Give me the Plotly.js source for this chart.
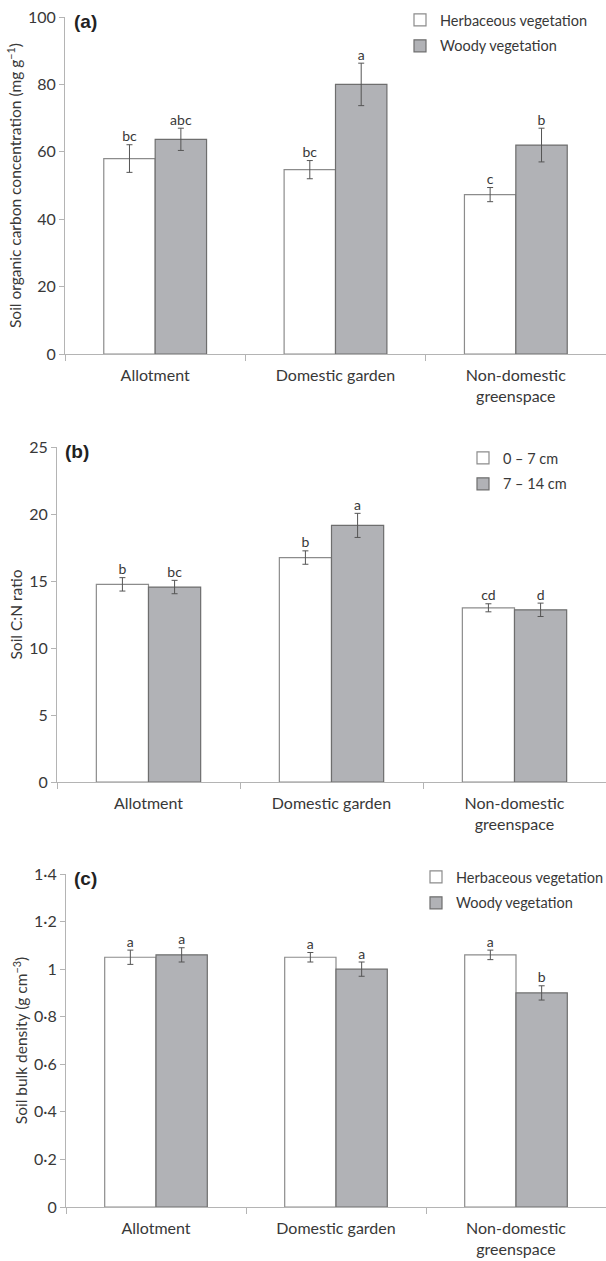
<!DOCTYPE html>
<html>
<head>
<meta charset="utf-8">
<script src="https://cdn.plot.ly/plotly-3.0.1.min.js"></script>
<style>html,body{margin:0;padding:0;background:#fff;}#chart{width:606px;height:1261px;}</style>
</head>
<body>
<div id="chart"></div>
<script>
// ---- data ----
const categories = ["Allotment", "Domestic garden", "Non-domestic<br>greenspace"];

// (a) soil organic carbon concentration (mg g-1)
const socHerb = [58.0, 54.7, 47.3];
const socHerbErr = [4.1, 2.7, 2.1];
const socWoody = [63.7, 80.0, 62.0];
const socWoodyErr = [3.3, 6.3, 5.0];
const socHerbLetters = ["bc", "bc", "c"];
const socWoodyLetters = ["abc", "a", "b"];

// (b) soil C:N ratio
const cnTop = [14.75, 16.75, 13.0];
const cnTopErr = [0.5, 0.5, 0.3];
const cnDeep = [14.55, 19.15, 12.85];
const cnDeepErr = [0.5, 0.9, 0.5];
const cnTopLetters = ["b", "b", "cd"];
const cnDeepLetters = ["bc", "a", "d"];

// (c) soil bulk density (g cm-3)
const bdHerb = [1.05, 1.05, 1.06];
const bdHerbErr = [0.03, 0.02, 0.02];
const bdWoody = [1.06, 1.00, 0.90];
const bdWoodyErr = [0.03, 0.03, 0.03];
const bdHerbLetters = ["a", "a", "a"];
const bdWoodyLetters = ["a", "a", "b"];
const bdTickVals = [0, 0.2, 0.4, 0.6, 0.8, 1, 1.2, 1.4];
const bdTickText = ["0", "0·2", "0·4", "0·6", "0·8", "1", "1·2", "1·4"];

const legendA = ["Herbaceous vegetation", "Woody vegetation"];
const legendB = ["0 – 7 cm", "7 – 14 cm"];
const legendC = ["Herbaceous vegetation", "Woody vegetation"];

// ---- styles ----
const FONT = "Lato, 'Open Sans', sans-serif";
const TXT = "#383838";
const AX = "#b4b4b4";
const whiteBar = {color: "#ffffff", line: {color: "#8c8c8c", width: 1.2}};
const greyBar = {color: "#b1b2b6", line: {color: "#6e6e6e", width: 1.2}};
const errStyle = {type: "data", visible: true, color: "#555555", thickness: 1, width: 3};

function barPair(sfx, legendId, names, v1, e1, v2, e2, l1, l2) {
  const xa = "x" + sfx, ya = "y" + sfx;
  const sum = (v, e) => v.map((d, i) => d + e[i]);
  return [
    {type: "bar", x: categories, y: v1, name: names[0], marker: whiteBar,
     error_y: Object.assign({array: e1}, errStyle), xaxis: xa, yaxis: ya,
     legend: legendId, legendgroup: legendId + "1", offsetgroup: "1", alignmentgroup: "g" + sfx, hoverinfo: "skip"},
    {type: "bar", x: categories, y: v2, name: names[1], marker: greyBar,
     error_y: Object.assign({array: e2}, errStyle), xaxis: xa, yaxis: ya,
     legend: legendId, legendgroup: legendId + "2", offsetgroup: "2", alignmentgroup: "g" + sfx, hoverinfo: "skip"},
    {type: "scatter", mode: "text", x: categories, y: sum(v1, e1), text: l1,
     textposition: "top center", textfont: {family: FONT, size: 14, color: TXT},
     xaxis: xa, yaxis: ya, showlegend: false, offsetgroup: "1", alignmentgroup: "s" + sfx, hoverinfo: "skip", cliponaxis: false},
    {type: "scatter", mode: "text", x: categories, y: sum(v2, e2), text: l2,
     textposition: "top center", textfont: {family: FONT, size: 14, color: TXT},
     xaxis: xa, yaxis: ya, showlegend: false, offsetgroup: "2", alignmentgroup: "s" + sfx, hoverinfo: "skip", cliponaxis: false}
  ];
}

const data = [].concat(
  barPair("", "legend", legendA, socHerb, socHerbErr, socWoody, socWoodyErr, socHerbLetters, socWoodyLetters),
  barPair("2", "legend2", legendB, cnTop, cnTopErr, cnDeep, cnDeepErr, cnTopLetters, cnDeepLetters),
  barPair("3", "legend3", legendC, bdHerb, bdHerbErr, bdWoody, bdWoodyErr, bdHerbLetters, bdWoodyLetters)
);

const H = 1261, W = 606;
const py = p => 1 - p / H;
const px = p => p / W;

function xAxis(left, anchor) {
  return {domain: [px(left), 1], anchor: anchor, type: "category", range: [-0.5, 2.5],
    showline: true, linecolor: AX, linewidth: 1, ticks: "outside", tickson: "boundaries",
    ticklen: 6, tickcolor: AX, showgrid: false, zeroline: false, fixedrange: true,
    ticklabelstandoff: 7, automargin: false,
    tickfont: {family: FONT, size: 16, color: TXT}};
}
function yAxis(top, bottom, anchor, range, dtick, title) {
  return {domain: [py(bottom), py(top)], anchor: anchor, range: range, dtick: dtick,
    showline: true, linecolor: AX, linewidth: 1, ticks: "outside", ticklen: 5, tickcolor: AX,
    showgrid: false, zeroline: false, fixedrange: true, automargin: false,
    tickfont: {family: FONT, size: 16, color: TXT},
    title: {text: title, font: {family: FONT, size: 15.5, color: TXT}, standoff: 2}};
}

function legendAt(xp, yp) {
  return {x: px(xp), y: py(yp), xanchor: "left", yanchor: "top", bgcolor: "rgba(0,0,0,0)",
    font: {family: FONT, size: 14.5, color: TXT}, traceorder: "grouped", tracegroupgap: 4,
    itemwidth: 30, borderwidth: 0};
}

const layout = {
  width: W, height: H,
  margin: {l: 0, r: 0, t: 0, b: 0, autoexpand: false},
  paper_bgcolor: "#ffffff", plot_bgcolor: "#ffffff",
  barmode: "group", bargap: 0.43, bargroupgap: 0,
  scattermode: "group", scattergap: 0.43,
  font: {family: FONT, color: TXT},
  xaxis: xAxis(65, "y"),
  yaxis: yAxis(17, 354, "x", [0, 100], 20, "Soil organic carbon concentration (mg g<sup>−1</sup>)"),
  xaxis2: xAxis(57, "y2"),
  yaxis2: yAxis(447, 782, "x2", [0, 25], 5, "Soil C:N ratio"),
  xaxis3: xAxis(66, "y3"),
  yaxis3: Object.assign(yAxis(874, 1207, "x3", [0, 1.4], 0.2, "Soil bulk density (g cm<sup>−3</sup>)"),
    {tickmode: "array", tickvals: bdTickVals, ticktext: bdTickText}),
  legend: legendAt(400, 4),
  legend2: legendAt(463, 442),
  legend3: legendAt(416, 861),
  annotations: [
    {text: "<b>(a)</b>", xref: "paper", yref: "paper", x: px(72), y: py(9), xanchor: "left", yanchor: "top",
     showarrow: false, font: {family: "Liberation Sans, Arial, sans-serif", size: 19, color: "#222"}},
    {text: "<b>(b)</b>", xref: "paper", yref: "paper", x: px(63), y: py(439), xanchor: "left", yanchor: "top",
     showarrow: false, font: {family: "Liberation Sans, Arial, sans-serif", size: 19, color: "#222"}},
    {text: "<b>(c)</b>", xref: "paper", yref: "paper", x: px(72), y: py(866), xanchor: "left", yanchor: "top",
     showarrow: false, font: {family: "Liberation Sans, Arial, sans-serif", size: 19, color: "#222"}}
  ]
};

Plotly.newPlot("chart", data, layout, {staticPlot: true, displayModeBar: false});
</script>
</body>
</html>
